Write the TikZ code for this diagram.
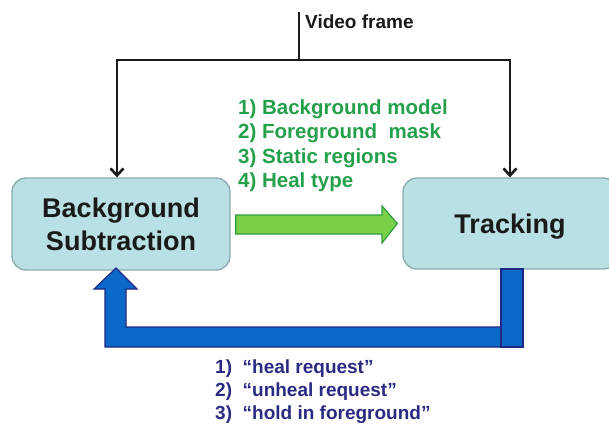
\documentclass[tikz,border=0pt]{standalone}
\usepackage{fontspec}
\setmainfont{Liberation Sans}
\usetikzlibrary{arrows.meta}
\definecolor{boxfill}{RGB}{185,224,228}
\definecolor{boxline}{RGB}{140,172,176}
\definecolor{gtext}{RGB}{36,160,74}
\definecolor{gfill}{RGB}{122,208,72}
\definecolor{gline}{RGB}{48,158,58}
\definecolor{bfill}{RGB}{10,104,200}
\definecolor{bline}{RGB}{30,40,130}
\definecolor{btext}{RGB}{42,42,130}
\definecolor{dark}{RGB}{26,26,26}
\tikzset{
  procbox/.style={draw=boxline, line width=1.4pt, fill=boxfill, rounded corners=14pt, align=center,
    font=\bfseries\fontsize{27}{32}\selectfont, text=dark},
  feed/.style={line width=2.8pt, draw=dark},
  feedarrow/.style={feed, -{Straight Barb[length=7pt,width=13pt,line width=2.6pt]}},
  gnote/.style={anchor=north west, align=left, text=gtext, font=\bfseries\fontsize{20.5}{24.5}\selectfont, inner sep=0pt},
  bnote/.style={anchor=north west, align=left, text=btext, font=\bfseries\fontsize{19}{23}\selectfont, inner sep=0pt},
}
\begin{document}
\begin{tikzpicture}[x=1pt,y=-1pt]
\useasboundingbox (0,0) rectangle (609,432);
\begin{scope}
\clip (0,0) rectangle (609,432);
% boxes
\node[procbox, minimum width=218pt, minimum height=92pt] (bs) at (121,224) {\raisebox{0pt}{Background}\\[1pt]Subtraction};
\node[procbox, minimum width=214pt, minimum height=91pt, text depth=0pt] (trk) at (510,223.5) {\raisebox{-1pt}{Tracking}};
\end{scope}
% video frame input
\coordinate (vtop) at (299,12);
\coordinate (vj) at (299,60);
\node[anchor=west, font=\bfseries\fontsize{19}{22}\selectfont, text=dark, inner sep=0pt] (vf) at (305,22) {Video frame};
\draw[feed] (vtop) -- (vj);
\draw[feedarrow] (vj) -| ([xshift=-4pt]bs.north);
\draw[feedarrow] (vj) -| (trk.north);
% green outputs
\node[gnote] (gl) at (238,99) {1) Background model\\2) Foreground\ \ mask\\3) Static regions\\4) Heal type};
\coordinate (ga) at ([xshift=5pt]bs.east);
\draw[gline, fill=gfill, line width=1.2pt]
  (ga |- 0,215) -- (382,215) -- (382,206) -- ([xshift=-5pt]trk.west) -- (382,243) -- (382,234) -- (ga |- 0,234) -- cycle;
% blue feedback
\coordinate (bt) at (116,268);
\draw[bline, fill=bfill, line width=1.1pt]
  (501,327) -- (126,327) -- (126,289) -- (137,289) -- (bt) -- (94,289) -- (105,289) -- (105,347) -- (501,347) -- cycle;
\draw[bline, fill=bfill, line width=1.1pt] (501,269) rectangle (523,347);
\node[bnote] (bl) at (215,360) {1)\ \ “heal request”\\2)\ \ “unheal request”\\3)\ \ “hold in foreground”};
\end{tikzpicture}
\end{document}
